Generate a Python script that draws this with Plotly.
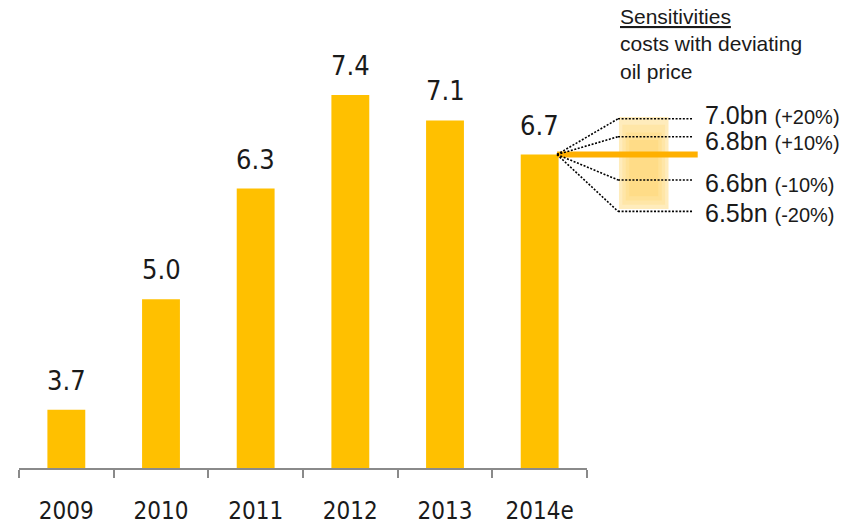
import plotly.graph_objects as go

# ---- data ----
years = ["2009", "2010", "2011", "2012", "2013", "2014e"]
costs = [3.7, 5.0, 6.3, 7.4, 7.1, 6.7]
value_labels = ["3.7", "5.0", "6.3", "7.4", "7.1", "6.7"]

sens_values = [7.0, 6.8, 6.6, 6.5]
sens_pct = ["(+20%)", "(+10%)", "(-10%)", "(-20%)"]
base_value = costs[-1]

# ---- layout constants (positions / styles) ----
BAR_COLOR = "#FFC000"
LINE_ORANGE = "#FFB000"
TXT = "#1a1a1a"
NARROW = "DejaVu Sans Condensed, Liberation Sans Narrow, sans-serif"
SANS = "Liberation Sans, Arial, sans-serif"

# schematic row positions of the sensitivity fan (axis units)
row_line_y = [7.12, 6.909, 6.401, 6.032]
row_label_y = [7.165, 6.855, 6.365, 6.017]
X_ORIGIN = 0.9472   # right edge of last bar (paper)
X_FAN_END = 1.0546
X_DOT_END = 1.1866
X_ORANGE_END = 1.1949
X_LABEL = 1.2042
RECT_X = (1.0563, 1.1435)
RECT_Y = (6.06, 7.14)

fig = go.Figure()
fig.add_trace(go.Bar(
    x=years, y=costs, marker_color=BAR_COLOR, marker_line_width=0,
    width=0.4, hoverinfo="skip",
))

annotations = []
for i, (v, lab) in enumerate(zip(costs, value_labels)):
    annotations.append(dict(
        x=i, y=v, xref="x", yref="y", text=lab, showarrow=False,
        yanchor="bottom", yshift=12,
        font=dict(family=NARROW, size=27, color=TXT),
    ))

# header text
annotations.append(dict(
    x=1.0546, y=1, xref="paper", yref="paper", xanchor="left", yanchor="top",
    text="<u>Sensitivities</u><br>costs with deviating<br>oil price",
    align="left", showarrow=False, yshift=-3,
    font=dict(family=SANS, size=21, color=TXT),
))

# sensitivity labels
for v, p, ly in zip(sens_values, sens_pct, row_label_y):
    annotations.append(dict(
        x=X_LABEL, y=ly, xref="paper", yref="y", xanchor="left", yanchor="middle",
        text=f"{v:.1f}bn <span style='font-size:20px'>{p}</span>",
        showarrow=False,
        font=dict(family=SANS, size=25, color=TXT),
    ))

shapes = []
# gradient-like shaded box (soft layered fills)
shapes.append(dict(
    type="rect", xref="paper", yref="y",
    x0=RECT_X[0], x1=RECT_X[1], y0=RECT_Y[0], y1=RECT_Y[1],
    fillcolor="rgba(255,205,80,0.38)", line_width=0, layer="above",
))
for k in range(1, 4):
    dx = 0.006 * k
    dyt = 0.09 * k
    dyb = 0.05 * k
    shapes.append(dict(
        type="rect", xref="paper", yref="y",
        x0=RECT_X[0] + dx, x1=RECT_X[1] - dx,
        y0=RECT_Y[0] + dyb, y1=RECT_Y[1] - dyt,
        fillcolor="rgba(255,200,60,0.16)", line_width=0, layer="above",
    ))

# orange base line
shapes.append(dict(
    type="line", xref="paper", yref="y", x0=X_ORIGIN, x1=X_ORANGE_END,
    y0=base_value, y1=base_value, line=dict(color=LINE_ORANGE, width=6), layer="above",
))

# dotted fan lines
for ry in row_line_y:
    shapes.append(dict(
        type="line", xref="paper", yref="y", x0=X_ORIGIN, x1=X_FAN_END,
        y0=base_value, y1=ry, line=dict(color="black", width=1.6, dash="2px,1.6px"),
        layer="above",
    ))
    shapes.append(dict(
        type="line", xref="paper", yref="y", x0=X_FAN_END, x1=X_DOT_END,
        y0=ry, y1=ry, line=dict(color="black", width=1.6, dash="2px,1.6px"),
        layer="above",
    ))

fig.update_layout(
    width=862, height=525,
    margin=dict(l=19, r=275, t=0, b=53),
    paper_bgcolor="white", plot_bgcolor="white",
    showlegend=False,
    annotations=annotations,
    shapes=shapes,
    xaxis=dict(
        type="category", range=[-0.5, 5.5],
        showline=True, linecolor="#8a8a8a", linewidth=2,
        ticks="outside", tickson="boundaries", ticklen=8, tickwidth=2, tickcolor="#8a8a8a",
        tickfont=dict(family=NARROW, size=24, color=TXT),
        ticklabelstandoff=20,
        showgrid=False, zeroline=False, fixedrange=True,
    ),
    yaxis=dict(
        range=[3.015, 3.015 + 472 / 85.8], visible=False, showgrid=False,
        zeroline=False, fixedrange=True,
    ),
)

fig.write_html("out.html")
